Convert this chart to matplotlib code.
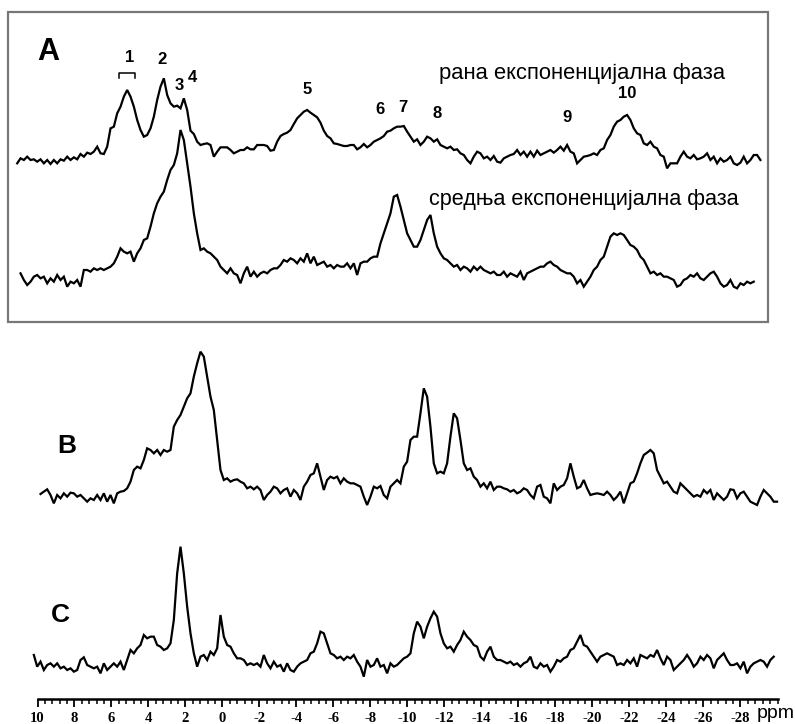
import matplotlib
matplotlib.use('Agg')
import matplotlib.pyplot as plt
import numpy as np
from matplotlib.patches import Rectangle
from matplotlib.lines import Line2D

# --- podaci: spektri (intenzitet, proizvoljne jedinice), ekvidistantno uzorkovani u ppm ---
DPPM = 0.18018  # korak uzorkovanja (ppm)

rana_start = 11.10
rana = [10, 25, 20, 30, 20, 22, 15, 22, 10, 20, 8, 20, 10, 22, 18, 30, 20, 28, 22, 38,
        30, 42, 38, 45, 60, 40, 38, 60, 115, 120, 160, 180, 210, 230, 210, 180, 140, 110, 90, 95,
        115, 150, 200, 240, 265, 215, 190, 180, 183, 175, 205, 170, 108, 98, 75, 65, 68, 70, 65, 30,
        45, 58, 58, 58, 50, 40, 45, 50, 50, 58, 52, 52, 65, 65, 65, 62, 48, 50, 75, 92,
        98, 102, 110, 128, 145, 155, 165, 170, 162, 155, 148, 132, 108, 92, 85, 70, 68, 65, 62, 62,
        65, 65, 52, 58, 68, 58, 65, 75, 80, 85, 92, 105, 108, 115, 120,
        120, 122, 105, 90, 75, 82, 65, 75, 90, 85, 75, 82, 65, 60, 55, 60, 50, 52, 40, 35,
        20, 10, 30, 45, 40, 25, 30, 20, 32, 15, 12, 25, 30, 35, 38, 50, 35, 45, 30, 45,
        30, 48, 35, 40, 45, 50, 42, 50, 60, 48, 65, 45, 40, 10, 20, 30, 32, 35, 40, 35,
        50, 55, 80, 95, 120, 135, 140, 150, 155, 140, 115, 100, 95, 70, 65, 75, 60, 55, 35, 30,
        -5, 10, 10, 10, 30, 45, 30, 25, 35, 22, 25, 30, 40, 20, 30, 10, 25, 15, 20, 30,
        10, 5, 12, 30, 10, 20, 35, 35, 20]

srednja_start = 10.92
srednja = [40, 20, 5, 15, 30, 35, 25, 30, 10, 25, 15, 35, 20, 30, 0, 15, 10, 20, 0, 50,
           50, 45, 55, 50, 55, 50, 55, 60, 70, 90, 115, 105, 100, 105, 75, 100, 115, 140, 145, 180,
           220, 250, 270, 285, 320, 350, 365, 400, 470, 440, 370, 300, 220, 160, 110, 115, 105, 100, 90, 80,
           60, 50, 40, 55, 40, 35, 10, 40, 60, 30, 45, 30, 40, 45, 40, 50, 55, 55, 65, 80,
           75, 85, 80, 70, 85, 75, 100, 70, 90, 65, 70, 75, 60, 65, 55, 65, 60, 60, 70, 55,
           70, 35, 70, 75, 75, 85, 90, 90, 130, 160, 190, 220, 270, 275,
           240, 200, 160, 140, 120, 120, 140, 170, 200, 215, 160, 120, 100, 85, 80, 70, 60, 65, 50, 60,
           55, 45, 60, 50, 60, 50, 45, 40, 45, 35, 35, 45, 30, 40, 35, 30, 45, 20, 40, 45,
           50, 55, 60, 60, 70, 75, 65, 60, 50, 45, 40, 40, 30, 10, 20, 0, 15, 30, 50, 60,
           80, 90, 120, 150, 160, 155, 160, 155, 140, 125, 120, 110, 90, 80, 60, 40, 45, 35, 40, 30,
           30, 25, 20, 0, 5, 20, 25, 35, 30, 40, 25, 20, 30, 40, 45, 30, 10, 0, 5, 20,
           0, -5, 10, 5, 15, 10, 15]

b_start = 9.84
spec_b = [8, 15, 22, 5, -20, 5, -5, 10, 0, 12, 10, 0, 5, -5, -15, -5, -10, 5, -10, 10,
          -15, 5, -20, 10, 15, 17, 25, 45, 80, 90, 85, 110, 145, 140, 130, 140, 125, 140, 135, 140,
          210, 230, 245, 270, 295, 310, 360, 400, 435, 420, 360, 300, 260, 170, 80, 50, 55, 45, 50, 52,
          45, 40, 25, 30, 22, 30, 20, -10, 5, 15, 30, 25, 10, 20, 25, 0, 20, 10, -10, 30,
          45, 65, 70, 100, 60, 20, 50, 60, 55, 60, 40, 55, 45, 40, 40, 35, 30, 0, -25, 0,
          30, 25, 32, 5, -5, 30, 40, 50,
          40, 90, 105, 170, 180, 180, 250, 325, 300, 210, 100, 70, 75, 70, 100, 180, 250, 235, 170, 100,
          80, 85, 60, 50, 30, 40, 25, 45, 20, 30, 30, 25, 22, 15, 20, 10, 15, 25, 20, 5,
          -5, 30, 35, 0, -5, -20, 40, 20, 30, 35, 55, 100, 60, 25, 30, 50, 25, 5, 8, 10,
          8, 5, 15, 5, -10, 0, 15, -20, 10, 40, 45, 70, 100, 125, 132, 140, 130, 80, 60, 40,
          45, 30, 15, 10, 40, 30, 20, 10, 0, 5, 0, 20, 10, 20, -10, 10, 0, -10, 0, 22,
          20, -5, 10, 15, 0, -15, -20, -25, 0, 20, 10, 0, -15, -15]

c_start = 10.20
spec_c = [35, 0, 15, -10, 5, 10, 0, 10, -5, 0, -10, -5, -15, -10, 20, 28, 5, 0, -5, 0,
          -20, 10, -10, 0, 10, 0, 15, -10, 20, 50, 40, 55, 65, 95, 85, 90, 90, 65, 60, 50,
          55, 70, 140, 280, 360, 280, 180, 100, 40, 0, 30, 35, 20, 45, 35, 55, 155, 90, 65, 60,
          40, 25, 25, 20, 5, 10, 5, 10, 0, 35, 10, -5, 15, 0, 5, -15, 10, -10, -15, 0,
          10, 15, 20, 40, 45, 70, 105, 100, 70, 40, 35, 25, 30, 20, 30, 25, 35, 15, 0, -30,
          20, 0, 5, 25, 0, 5, -20, 10, 0, 5,
          15, 25, 30, 40, 100, 135, 120, 85, 120, 145, 165, 150, 100, 70, 55, 60, 45, 65, 80, 105,
          90, 80, 65, 60, 30, 20, 45, 60, 30, 20, 20, 15, 10, 15, 5, 10, 0, 10, 15, 30,
          0, -5, 10, 0, 5, -15, 0, 20, 15, 25, 30, 50, 55, 75, 95, 65, 60, 45, 30, 15,
          30, 35, 40, 35, 30, 5, 10, 5, 20, 10, 25, 0, 35, 30, 25, 35, 30, 50, 25, 5,
          30, 20, -10, 0, 10, 20, 35, 20, 0, 10, 30, 20, 35, 25, -5, 20, 30, 40, 20, 5,
          5, 10, -5, 15, -20, 0, 10, 15, 20, 15, 0, 20, 30]

peak_labels = ['1', '2', '3', '4', '5', '6', '7', '8', '9', '10']
tick_vals = list(range(10, -29, -2))
tick_labels = [str(v) for v in tick_vals]

W, H = 795, 724


def fx(px):
    return px / W


def fy(py):
    return 1 - py / H


fig = plt.figure(figsize=(W / 100, H / 100), dpi=100)
fig.patch.set_facecolor('white')

# glavni prostor za spektre (x u ppm, obrnuta osa)
ax = fig.add_axes([0, 0, 1, 1])
ax.set_xlim(12.03, -30.95)
ax.set_ylim(0, 3 * H)
ax.axis('off')

traces = [
    (rana_start, rana, 1672),
    (srednja_start, srednja, 1312),
    (b_start, spec_b, 682),
    (c_start, spec_c, 172),
]
for start, vals, offset in traces:
    vals = np.array(vals, dtype=float)
    ppm = start - DPPM * np.arange(len(vals))
    ax.plot(ppm, vals + offset, color='black', lw=1.6, solid_joinstyle='miter')

# okvir panela A
fig.patches.append(Rectangle((fx(8), fy(322)), fx(760), 310 / H, transform=fig.transFigure,
                             fill=False, edgecolor='#777777', lw=1.6))

# oznake panela
fig.text(fx(48), fy(52), 'A', fontsize=22, fontweight='bold', family='Liberation Sans',
         ha='center', va='center')
fig.text(fx(67), fy(446), 'B', fontsize=19, fontweight='bold', family='Liberation Sans',
         ha='center', va='center')
fig.text(fx(60), fy(615), 'C', fontsize=19, fontweight='bold', family='Liberation Sans',
         ha='center', va='center')

# brojevi pikova
label_pos = [(130, 58), (162, 59), (179, 85), (192, 77), (307, 90),
             (380, 110), (403, 107), (437, 113), (567, 117), (627, 93)]
for lab, (px, py) in zip(peak_labels, label_pos):
    fig.text(fx(px), fy(py), lab, fontsize=12, fontweight='bold', family='Liberation Sans',
             ha='center', va='center')

# zagrada iznad pika 1
fig.lines.append(Line2D([fx(119), fx(119), fx(135), fx(135)], [fy(78), fy(73), fy(73), fy(78)],
                        transform=fig.transFigure, color='black', lw=1.1))

fig.text(fx(582), fy(73), 'рана експоненцијална фаза', fontsize=15.8, family='Liberation Sans',
         ha='center', va='center')
fig.text(fx(584), fy(200), 'средња експоненцијална фаза', fontsize=15.6, family='Liberation Sans',
         ha='center', va='center')

# ppm skala
sax = fig.add_axes([fx(37.5), fy(699), 740 / W, 0.001])
sax.set_xlim(10, -30)
sax.set_ylim(0, 1)
for s in ['top', 'left', 'right']:
    sax.spines[s].set_visible(False)
sax.spines['bottom'].set_linewidth(1.8)
sax.set_yticks([])
sax.set_xticks(tick_vals)
sax.set_xticklabels(tick_labels, fontsize=10.5, fontweight='bold', family='Liberation Serif')
sax.set_xticks(np.arange(10, -30.01, -0.4), minor=True)
sax.tick_params(axis='x', which='major', direction='out', length=6, width=1.3, pad=3)
sax.tick_params(axis='x', which='minor', direction='out', length=3.5, width=1.1)
sax.patch.set_visible(False)

fig.text(fx(757), fy(718), 'ppm', fontsize=14, family='Liberation Sans', ha='left', va='baseline')

fig.savefig('out.png', dpi=100)
